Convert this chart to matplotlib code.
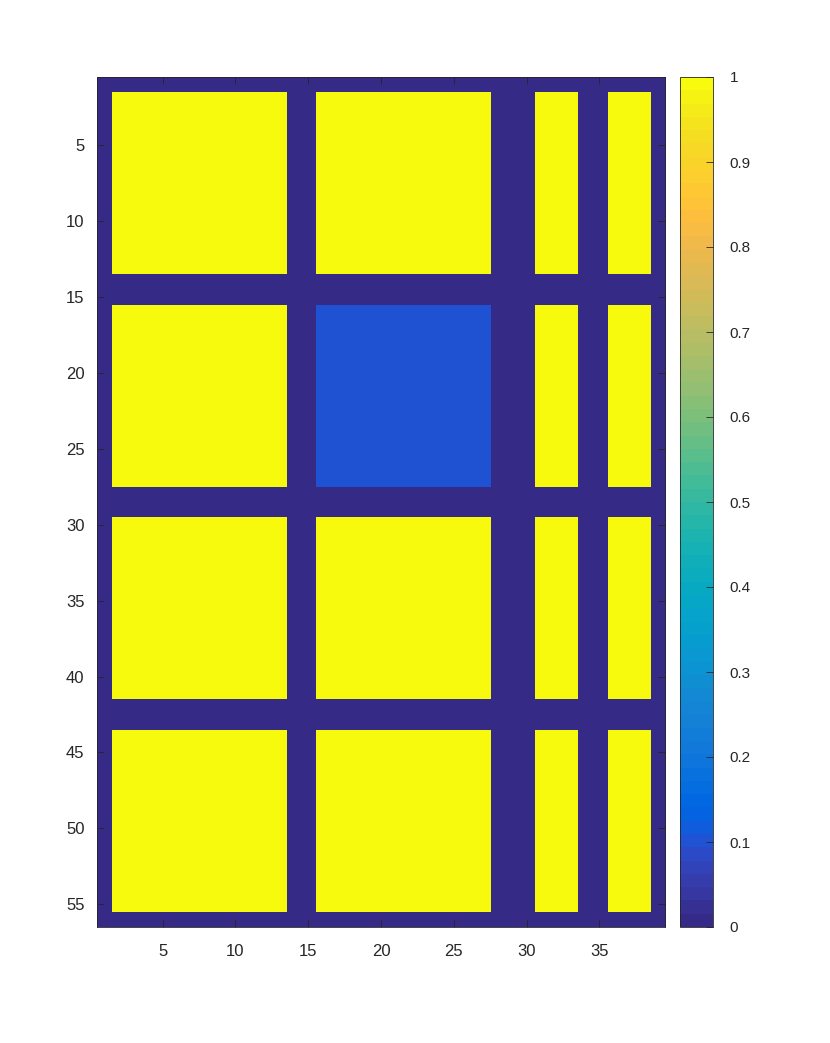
import numpy as np
import matplotlib
matplotlib.use('Agg')
import matplotlib.pyplot as plt
from matplotlib.colors import ListedColormap

plt.rcParams['font.family'] = ['Liberation Sans', 'DejaVu Sans']

# parula (64 colours)
parula = [
[0.2081,0.1663,0.5292],[0.2116,0.1898,0.5777],[0.2123,0.2138,0.6270],[0.2081,0.2386,0.6771],
[0.1959,0.2645,0.7279],[0.1707,0.2919,0.7792],[0.1253,0.3242,0.8303],[0.0591,0.3598,0.8683],
[0.0117,0.3875,0.8820],[0.0060,0.4086,0.8828],[0.0165,0.4266,0.8786],[0.0329,0.4430,0.8720],
[0.0498,0.4586,0.8641],[0.0629,0.4737,0.8554],[0.0723,0.4887,0.8467],[0.0779,0.5040,0.8384],
[0.0793,0.5200,0.8312],[0.0749,0.5375,0.8263],[0.0641,0.5570,0.8240],[0.0488,0.5772,0.8228],
[0.0343,0.5966,0.8199],[0.0265,0.6137,0.8135],[0.0239,0.6287,0.8038],[0.0231,0.6418,0.7913],
[0.0228,0.6535,0.7768],[0.0267,0.6642,0.7607],[0.0384,0.6743,0.7436],[0.0590,0.6838,0.7254],
[0.0843,0.6928,0.7062],[0.1133,0.7015,0.6859],[0.1453,0.7098,0.6646],[0.1801,0.7177,0.6424],
[0.2178,0.7250,0.6193],[0.2586,0.7317,0.5954],[0.3022,0.7376,0.5712],[0.3482,0.7424,0.5473],
[0.3953,0.7459,0.5244],[0.4420,0.7481,0.5033],[0.4871,0.7491,0.4840],[0.5300,0.7491,0.4661],
[0.5709,0.7485,0.4494],[0.6099,0.7473,0.4337],[0.6473,0.7456,0.4188],[0.6834,0.7435,0.4044],
[0.7184,0.7411,0.3905],[0.7525,0.7384,0.3768],[0.7858,0.7356,0.3633],[0.8185,0.7327,0.3498],
[0.8507,0.7299,0.3360],[0.8824,0.7274,0.3217],[0.9139,0.7258,0.3063],[0.9450,0.7261,0.2886],
[0.9739,0.7314,0.2666],[0.9938,0.7455,0.2403],[0.9990,0.7653,0.2164],[0.9955,0.7861,0.1967],
[0.9880,0.8066,0.1794],[0.9789,0.8271,0.1633],[0.9697,0.8481,0.1475],[0.9626,0.8705,0.1309],
[0.9589,0.8949,0.1132],[0.9598,0.9218,0.0948],[0.9661,0.9514,0.0755],[0.9763,0.9831,0.0538]]
cmap = ListedColormap(parula)

# Datos: bloques (filas, columnas, valor), indices 1-based
n_rows = 56
n_cols = 39
row_blocks = [(2, 13), (16, 27), (30, 41), (44, 55)]
col_blocks = [(2, 13), (16, 27), (31, 33), (36, 38)]
block_vals = [[1, 1, 1, 1],
              [1, 0.1, 1, 1],
              [1, 1, 1, 1],
              [1, 1, 1, 1]]

M = np.zeros((n_rows, n_cols))
for i, (r0, r1) in enumerate(row_blocks):
    for j, (c0, c1) in enumerate(col_blocks):
        M[r0-1:r1, c0-1:c1] = block_vals[i][j]

fig = plt.figure(figsize=(8.3, 10.43), dpi=100)
ax = fig.add_axes([97/830, 1-927/1043, 568/830, 850/1043])
im = ax.imshow(M, cmap=cmap, vmin=0, vmax=1, aspect='auto', interpolation='nearest',
               extent=[0.5, n_cols+0.5, n_rows+0.5, 0.5])
ax.set_xticks([5, 10, 15, 20, 25, 30, 35])
ax.set_yticks([5, 10, 15, 20, 25, 30, 35, 40, 45, 50, 55])
ax.tick_params(direction='in', top=True, right=True, length=5, width=0.6,
               labelsize=12, colors='#262626')
ax.tick_params(axis='x', pad=12)
ax.tick_params(axis='y', pad=9)
for s in ax.spines.values():
    s.set_color('#262626')
    s.set_linewidth(0.6)

cax = fig.add_axes([680/830, 1-927/1043, 33/830, 850/1043])
cb = fig.colorbar(im, cax=cax)
cb.set_ticks(np.arange(0, 1.01, 0.1))
cb.set_ticklabels(['0', '0.1', '0.2', '0.3', '0.4', '0.5', '0.6', '0.7', '0.8', '0.9', '1'])
cax.tick_params(direction='in', length=5, width=0.6, labelsize=11, colors='#262626', pad=12)
cb.outline.set_edgecolor('#262626')
cb.outline.set_linewidth(0.6)

fig.savefig('out.png', dpi=100)
